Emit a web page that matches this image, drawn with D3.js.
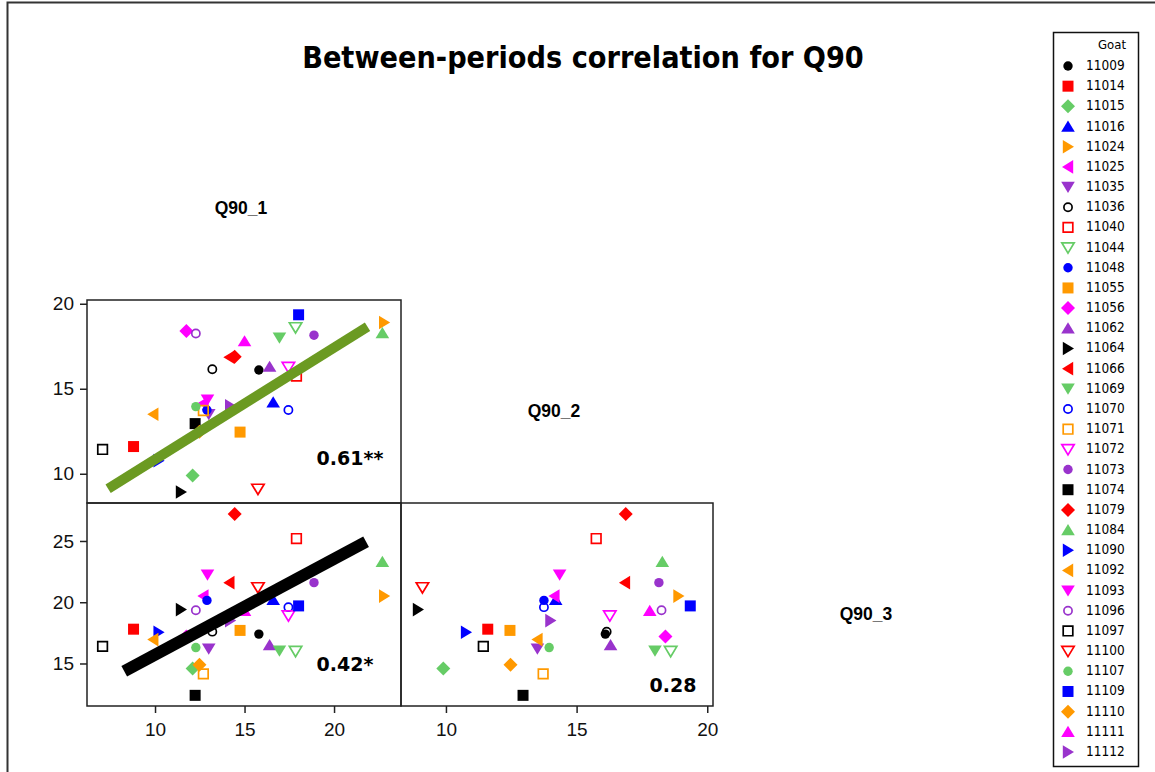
<!DOCTYPE html>
<html><head><meta charset="utf-8">
<script src="https://cdn.jsdelivr.net/npm/d3@7"></script>
<style>
html,body{margin:0;padding:0;background:#fff;}
svg{display:block;}
</style></head>
<body>
<svg id="chart" width="1155" height="772"></svg>
<script>
// ---------------- DATA ----------------
const goats = ["11009","11014","11015","11016","11024","11025","11035","11036","11040","11044",
  "11048","11055","11056","11062","11064","11066","11069","11070","11071","11072",
  "11073","11074","11079","11084","11090","11092","11093","11096","11097","11100",
  "11107","11109","11110","11111","11112"];
const q90_1 = [15.8, 8.8, 12.1, 16.6, 22.8, 12.7, 13.0, 13.2, 17.9, 17.85,
  12.9, 14.75, 11.75, 16.4, 11.45, 14.15, 16.95, 17.45, 12.7, 17.45,
  18.88, 12.24, 14.45, 22.7, 10.2, 9.9, 12.93, 12.28, 7.07, 15.75,
  12.28, 18.02, 12.48, 15.0, 14.2];
const q90_2 = [16.1, 11.6, 9.9, 14.2, 18.9, 14.15, 13.5, 16.15, 15.75, 18.6,
  13.75, 12.45, 18.4, 16.3, 8.93, 16.85, 18.0, 13.75, 13.72, 16.27,
  18.15, 12.95, 16.88, 18.28, 10.77, 13.5, 14.35, 18.25, 11.43, 9.1,
  13.95, 19.35, 12.47, 17.8, 14.0];
const q90_3 = [17.4, 17.8, 14.6, 20.2, 20.5, 20.5, 16.2, 17.6, 25.2, 16.0,
  20.15, 17.7, 17.2, 16.5, 19.4, 21.6, 16.05, 19.6, 14.15, 18.9,
  21.6, 12.4, 27.2, 23.3, 17.55, 16.95, 22.25, 19.35, 16.4, 21.2,
  16.3, 19.7, 14.9, 19.3, 18.5];
const varNames = ["Q90_1", "Q90_2", "Q90_3"];
const ticks1 = [10, 15, 20];
const ticks2 = [10, 15, 20];
const ticks3 = [15, 20, 25];
const corrLabels = ["0.61**", "0.42*", "0.28"];
// fitted regression line end points (data units)
const fit12X = [7.38, 21.87], fit12Y = [9.12, 18.65];
const fit13X = [8.28, 21.79], fit13Y = [14.37, 24.94];

// ---------------- STYLE ----------------
const palette = ["#000000", "#FF0000", "#66CC66", "#0000FF", "#FF9900", "#FF00FF", "#9933CC"];
const shapes = ["circle", "square", "diamond", "triUp", "triRight", "triLeft", "triDown", "oCircle", "oSquare", "oTriDown"];
const tahomaLike = "DejaVu Sans Condensed, DejaVu Sans, Verdana, sans-serif";

const svg = d3.select("#chart");

// outer frame
svg.append("path").attr("d", "M7.5,772 L7.5,2.5 L1155,2.5")
  .attr("fill", "none").attr("stroke", "#333").attr("stroke-width", 2);

// title
const title = svg.append("text").attr("x", 583).attr("y", 68)
  .attr("text-anchor", "middle").attr("font-family", tahomaLike)
  .attr("font-weight", "bold").attr("font-size", 30).text("Between-periods correlation for Q90");
const tw = title.node().getComputedTextLength();
title.attr("font-size", 30 * 562 / tw);

// cells
const cellX = [87, 401, 713, 1025];
const cellY = [97, 300, 503, 706];
const doms = [[6.2, 23.74], [8.28, 20.22], [11.53, 28.1]];
const vals = [q90_1, q90_2, q90_3];
function xs(j) { return d3.scaleLinear().domain(doms[j]).range([cellX[j], cellX[j + 1]]); }
function ys(i) { return d3.scaleLinear().domain(doms[i]).range([cellY[i + 1], cellY[i]]); }

function symPath(shape) {
  switch (shape) {
    case "circle": return d3.symbol(d3.symbolCircle, Math.PI * 4.7 * 4.7)();
    case "oCircle": return d3.symbol(d3.symbolCircle, Math.PI * 4.1 * 4.1)();
    case "square": return "M-5.5,-5.5H5.5V5.5H-5.5Z";
    case "oSquare": return "M-4.8,-4.8H4.8V4.8H-4.8Z";
    case "diamond": return "M0,-7L7,0L0,7L-7,0Z";
    case "triUp": return "M0,-6L6.8,5.2L-6.8,5.2Z";
    case "triDown": return "M0,6L6.8,-5.2L-6.8,-5.2Z";
    case "oTriDown": return "M0,5.5L6.2,-4.8L-6.2,-4.8Z";
    case "triRight": return "M6,0L-5.2,-6.8L-5.2,6.8Z";
    case "triLeft": return "M-6,0L5.2,-6.8L5.2,6.8Z";
  }
}
function styleSym(sel, i) {
  const sh = shapes[i % shapes.length], col = palette[i % palette.length];
  const open = sh.startsWith("o");
  sel.attr("d", symPath(sh))
    .attr("fill", open ? "none" : col)
    .attr("stroke", open ? col : "none")
    .attr("stroke-width", open ? 1.7 : 0);
}

const pairs = [[1, 0], [2, 0], [2, 1]]; // [row var, col var]
pairs.forEach(([i, j], k) => {
  const x = xs(j), y = ys(i);
  const g = svg.append("g");
  g.selectAll("path.pt").data(goats).join("path").attr("class", "pt")
    .attr("transform", (d, n) => `translate(${x(vals[j][n])},${y(vals[i][n])})`)
    .each(function (d, n) { styleSym(d3.select(this), n); });
  if (k === 0) {
    g.append("line").attr("x1", x(fit12X[0])).attr("y1", y(fit12Y[0]))
      .attr("x2", x(fit12X[1])).attr("y2", y(fit12Y[1]))
      .attr("stroke", "#6B9A22").attr("stroke-width", 10);
  }
  if (k === 1) {
    g.append("line").attr("x1", x(fit13X[0])).attr("y1", y(fit13Y[0]))
      .attr("x2", x(fit13X[1])).attr("y2", y(fit13Y[1]))
      .attr("stroke", "#000").attr("stroke-width", 12);
  }
  g.append("rect").attr("x", cellX[j]).attr("y", cellY[i])
    .attr("width", cellX[j + 1] - cellX[j]).attr("height", cellY[i + 1] - cellY[i])
    .attr("fill", "none").attr("stroke", "#222").attr("stroke-width", 1.5);
});

// correlation labels
const corrPos = [[350, 459], [345, 665], [673, 686]];
corrLabels.forEach((t, k) => {
  svg.append("text").attr("x", corrPos[k][0]).attr("y", corrPos[k][1])
    .attr("text-anchor", "middle").attr("dominant-baseline", "middle")
    .attr("font-family", "DejaVu Sans, Verdana, sans-serif").attr("font-weight", "bold")
    .attr("font-size", 19).text(t);
});

// diagonal labels
varNames.forEach((n, k) => {
  svg.append("text").attr("x", (cellX[k] + cellX[k + 1]) / 2 - 3)
    .attr("y", (cellY[k] + cellY[k + 1]) / 2 + 11)
    .attr("text-anchor", "middle").attr("dominant-baseline", "middle")
    .attr("font-family", "Liberation Sans, Arial, sans-serif").attr("font-weight", "bold")
    .attr("font-size", 17.5).text(n);
});

// axes
const axisFont = "Liberation Sans, Arial, sans-serif";
function styleAxis(g) {
  g.select(".domain").remove();
  g.selectAll(".tick line").attr("stroke", "#222").attr("stroke-width", 1.5);
  g.selectAll(".tick text").attr("font-family", axisFont).attr("font-size", 19).attr("fill", "#111");
}
svg.append("g").attr("transform", `translate(${cellX[0]},0)`)
  .call(d3.axisLeft(ys(1)).tickValues(ticks2).tickSize(7).tickPadding(6)).call(styleAxis);
svg.append("g").attr("transform", `translate(${cellX[0]},0)`)
  .call(d3.axisLeft(ys(2)).tickValues(ticks3).tickSize(7).tickPadding(6)).call(styleAxis);
svg.append("g").attr("transform", `translate(0,${cellY[3]})`)
  .call(d3.axisBottom(xs(0)).tickValues(ticks1).tickSize(7).tickPadding(10)).call(styleAxis);
svg.append("g").attr("transform", `translate(0,${cellY[3]})`)
  .call(d3.axisBottom(xs(1)).tickValues(ticks2).tickSize(7).tickPadding(10)).call(styleAxis);

// legend
const lg = svg.append("g");
lg.append("rect").attr("x", 1053.5).attr("y", 32.5).attr("width", 85).attr("height", 734)
  .attr("fill", "#fff").attr("stroke", "#111").attr("stroke-width", 1.5);
lg.append("text").attr("x", 1126).attr("y", 45).attr("text-anchor", "end")
  .attr("dominant-baseline", "middle").attr("font-family", tahomaLike)
  .attr("font-size", 13).text("Goat");
const ly = d3.scalePoint().domain(goats).range([66, 752]);
goats.forEach((gid, n) => {
  const p = lg.append("path").attr("transform", `translate(1068,${ly(gid)})`);
  styleSym(p, n);
  lg.append("text").attr("x", 1086).attr("y", ly(gid)).attr("dominant-baseline", "middle")
    .attr("font-family", tahomaLike).attr("font-size", 13.5).text(gid);
});
</script>
</body></html>
